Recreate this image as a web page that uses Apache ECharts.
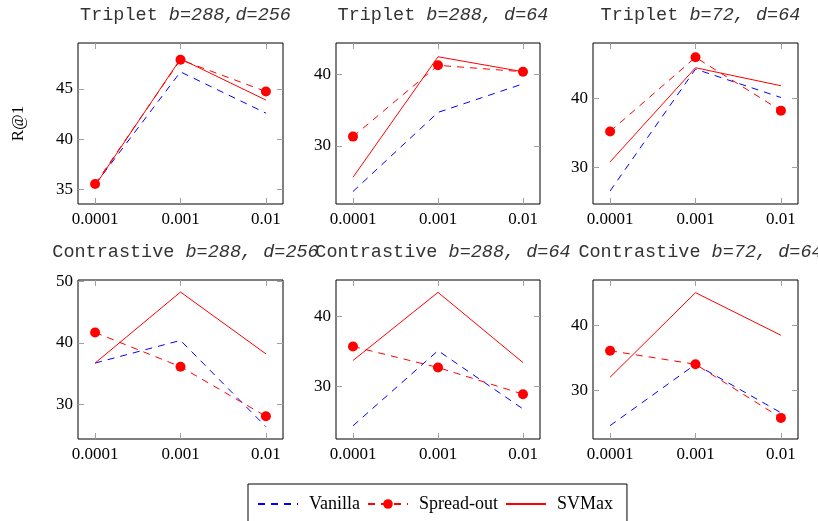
<!DOCTYPE html>
<html>
<head>
<meta charset="utf-8">
<script src="https://cdn.jsdelivr.net/npm/echarts@6/dist/echarts.min.js"></script>
<style>html,body{margin:0;padding:0;background:#fff;}#c{width:818px;height:521px;}</style>
</head>
<body>
<div id="c"></div>
<script>
// ---- data ----
const lrLabels = ['0.0001', '0.001', '0.01'];
const lossNames = ['Triplet', 'Triplet', 'Triplet', 'Contrastive', 'Contrastive', 'Contrastive'];
const settingLabels = ['b=288,d=256', 'b=288, d=64', 'b=72, d=64', 'b=288, d=256', 'b=288, d=64', 'b=72, d=64'];
const seriesNames = ['Vanilla', 'Spread-out', 'SVMax'];
const vanillaValues = [
  [35.5, 46.7, 42.6],
  [23.6, 34.7, 38.7],
  [26.6, 44.2, 40.1],
  [36.7, 40.4, 26.3],
  [24.4, 35.1, 26.8],
  [24.5, 34.0, 26.5]
];
const spreadOutValues = [
  [35.55, 47.9, 44.75],
  [31.3, 41.3, 40.4],
  [35.2, 45.9, 38.2],
  [41.7, 36.1, 28.0],
  [35.7, 32.7, 28.9],
  [36.1, 34.0, 25.7]
];
const svmaxValues = [
  [35.4, 48.0, 43.9],
  [25.6, 42.5, 40.4],
  [30.8, 44.4, 41.8],
  [36.7, 48.3, 38.2],
  [33.7, 43.4, 33.4],
  [32.0, 45.1, 38.5]
];
const yTickValues = [[35, 40, 45], [30, 40], [30, 40], [30, 40, 50], [30, 40], [30, 40]];

// ---- layout ----
const yLimits = [[33.57, 49.57], [21.85, 44.43], [24.72, 47.97], [24.29, 50.27], [22.52, 45.16], [22.43, 47.06]];
const colBoxes = [[78, 205], [336, 204], [593, 205]];
const rowBoxes = [[43, 161], [280, 159]];
const serif = 'Liberation Serif, Times New Roman, serif';
const mono = 'Liberation Mono, Courier New, monospace';
const tickColor = '#a0a0a0';
const dash = [7, 6];

const grids = [], xAxes = [], yAxes = [], series = [], titles = [];
for (let p = 0; p < 6; p++) {
  const col = colBoxes[p % 3], row = rowBoxes[Math.floor(p / 3)];
  grids.push({left: col[0], top: row[0], width: col[1], height: row[1], show: true,
    borderColor: '#000', borderWidth: 1, backgroundColor: 'transparent', containLabel: false});
  const xBase = {type: 'value', gridIndex: p, min: -0.2, max: 2.2,
    axisLine: {show: false, onZero: false}, splitLine: {show: false},
    axisTick: {show: true, inside: true, length: 6, customValues: [0, 1, 2], lineStyle: {color: tickColor, width: 1}}};
  xAxes.push(Object.assign({}, xBase, {position: 'bottom',
    axisLabel: {show: true, customValues: [0, 1, 2], formatter: v => lrLabels[Math.round(v)] || '',
      fontFamily: serif, fontSize: 17, color: '#000', margin: 7}}));
  xAxes.push(Object.assign({}, xBase, {position: 'top', axisLabel: {show: false}}));
  const yBase = {type: 'value', gridIndex: p, min: yLimits[p][0], max: yLimits[p][1],
    axisLine: {show: false, onZero: false}, splitLine: {show: false},
    axisTick: {show: true, inside: true, length: 6, customValues: yTickValues[p], lineStyle: {color: tickColor, width: 1}}};
  const yLeft = Object.assign({}, yBase, {position: 'left',
    axisLabel: {show: true, customValues: yTickValues[p], fontFamily: serif, fontSize: 17, color: '#000', margin: 5}});
  if (p === 0) {
    Object.assign(yLeft, {name: 'R@1', nameLocation: 'middle', nameRotate: 90, nameGap: 51,
      nameTextStyle: {fontFamily: serif, fontSize: 17, color: '#000'}});
  }
  yAxes.push(yLeft);
  yAxes.push(Object.assign({}, yBase, {position: 'right', axisLabel: {show: false}}));

  const mk = arr => arr.map((v, i) => [i, v]);
  series.push({name: 'Vanilla', type: 'line', xAxisIndex: 2 * p, yAxisIndex: 2 * p, data: mk(vanillaValues[p]),
    symbol: 'none', silent: true, animation: false,
    lineStyle: {color: '#0000ff', width: 1, type: dash}, itemStyle: {color: '#0000ff'}});
  series.push({name: 'Spread-out', type: 'line', xAxisIndex: 2 * p, yAxisIndex: 2 * p, data: mk(spreadOutValues[p]),
    symbol: 'circle', symbolSize: 10, showAllSymbol: true, silent: true, animation: false,
    lineStyle: {color: '#ff0000', width: 1, type: dash}, itemStyle: {color: '#ff0000'}});
  series.push({name: 'SVMax', type: 'line', xAxisIndex: 2 * p, yAxisIndex: 2 * p, data: mk(svmaxValues[p]),
    symbol: 'none', silent: true, animation: false,
    lineStyle: {color: '#ff0000', width: 1, type: 'solid'}, itemStyle: {color: '#ff0000'}});

  titles.push({text: '{a|' + lossNames[p] + ' }{b|' + settingLabels[p] + '}',
    left: col[0] + col[1] / 2, top: row[0] - 42, textAlign: 'center',
    textStyle: {fontWeight: 'normal', rich: {
      a: {fontFamily: mono, fontSize: 18.5, color: '#333', fontWeight: 'normal'},
      b: {fontFamily: mono, fontSize: 18.5, color: '#333', fontWeight: 'normal', fontStyle: 'italic'}
    }}});
}

const chart = echarts.init(document.getElementById('c'), null, {renderer: 'canvas'});
chart.setOption({
  animation: false,
  backgroundColor: '#fff',
  title: titles,
  grid: grids,
  xAxis: xAxes,
  yAxis: yAxes,
  legend: {
    data: [
      {name: seriesNames[0], itemStyle: {opacity: 0}},
      {name: seriesNames[1]},
      {name: seriesNames[2], itemStyle: {opacity: 0}}
    ],
    left: 248, top: 484, orient: 'horizontal',
    borderColor: '#000', borderWidth: 1, padding: [11, 14, 20, 9],
    itemWidth: 40, itemHeight: 12, itemGap: 7, selectedMode: false,
    textStyle: {fontFamily: serif, fontSize: 18, color: '#000', padding: [0, 0, 0, 6]}},
  series: series
});
</script>
</body>
</html>
